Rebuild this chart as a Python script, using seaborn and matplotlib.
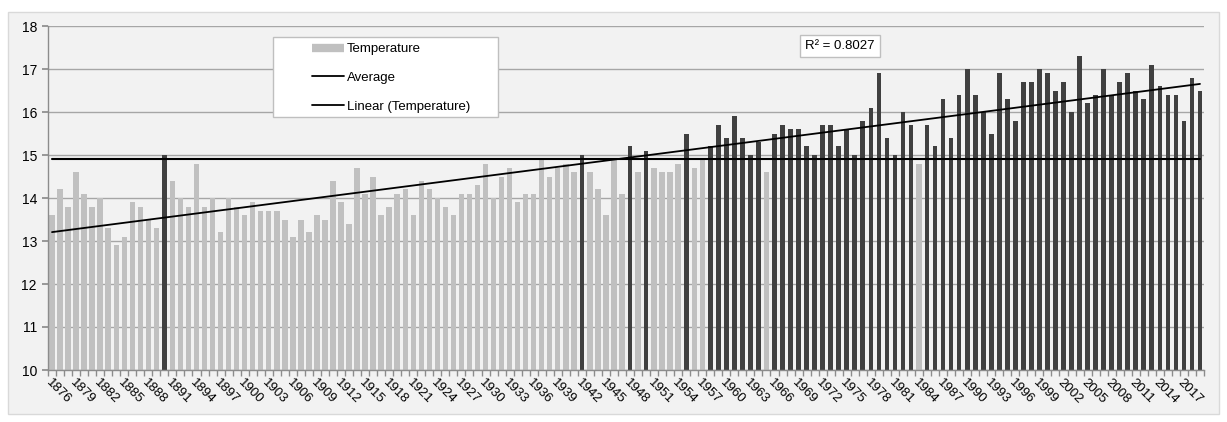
import numpy as np
import pandas as pd
import matplotlib
matplotlib.use('Agg')
import matplotlib.pyplot as plt
import seaborn as sns
from matplotlib.lines import Line2D
from matplotlib.patches import Rectangle

# ---------------- data ----------------
years = list(range(1876, 2020))
temps = [
    13.6, 14.2, 13.8, 14.6, 14.1, 13.8, 14.0, 13.3, 12.9, 13.1,
    13.9, 13.8, 13.5, 13.3, 15.0, 14.4, 14.0, 13.8, 14.8, 13.8,
    14.0, 13.2, 14.0, 13.8, 13.6, 13.9, 13.7, 13.7, 13.7, 13.5,
    13.1, 13.5, 13.2, 13.6, 13.5, 14.4, 13.9, 13.4, 14.7, 14.1,
    14.5, 13.6, 13.8, 14.1, 14.2, 13.6, 14.4, 14.2, 14.0, 13.8,
    13.6, 14.1, 14.1, 14.3, 14.8, 14.0, 14.5, 14.7, 13.9, 14.1,
    14.1, 14.9, 14.5, 14.7, 14.8, 14.6, 15.0, 14.6, 14.2, 13.6,
    14.9, 14.1, 15.2, 14.6, 15.1, 14.7, 14.6, 14.6, 14.8, 15.5,
    14.7, 14.9, 15.2, 15.7, 15.4, 15.9, 15.4, 15.0, 15.3, 14.6,
    15.5, 15.7, 15.6, 15.6, 15.2, 15.0, 15.7, 15.7, 15.2, 15.6,
    15.0, 15.8, 16.1, 16.9, 15.4, 15.0, 16.0, 15.7, 14.8, 15.7,
    15.2, 16.3, 15.4, 16.4, 17.0, 16.4, 16.0, 15.5, 16.9, 16.3,
    15.8, 16.7, 16.7, 17.0, 16.9, 16.5, 16.7, 16.0, 17.3, 16.2,
    16.4, 17.0, 16.4, 16.7, 16.9, 16.5, 16.3, 17.1, 16.6, 16.4,
    16.4, 15.8, 16.8, 16.5,
]
average = 14.9
r2_label = "R² = 0.8027"
legend_labels = ["Temperature", "Average", "Linear (Temperature)"]
yticks = list(range(10, 19))

# ---------------- style ----------------
sns.set_theme(style='white')
plt.rcParams['font.family'] = ['Liberation Sans Narrow', 'Liberation Sans', 'DejaVu Sans']
plt.rcParams['text.color'] = 'black'

LIGHT = '#c0c0c0'
DARK = '#404040'
GRID = '#a6a6a6'

W, H = 1227, 422
fig = plt.figure(figsize=(W / 100, H / 100), dpi=100, facecolor='white')
frame = Rectangle((8 / W, (H - 414) / H), (1219 - 8) / W, (414 - 12) / H,
                  transform=fig.transFigure, facecolor='#f2f2f2',
                  edgecolor='#d9d9d9', lw=1, zorder=-10)
fig.patches.append(frame)
ax = fig.add_axes([48 / W, (H - 370) / H, 1156 / W, 344 / H])
ax.set_zorder(1)
ax.set_facecolor('#f2f2f2')

df = pd.DataFrame({'year': [str(y) for y in years], 'temp': temps})
df['above'] = df['temp'] > average
order = df['year'].tolist()
n = len(order)

sns.barplot(data=df[~df['above']], x='year', y='temp', order=order, color=LIGHT,
            width=0.68, saturation=1, errorbar=None, linewidth=0, ax=ax, zorder=2)
sns.barplot(data=df[df['above']], x='year', y='temp', order=order, color=DARK,
            width=0.58, saturation=1, errorbar=None, linewidth=0, ax=ax, zorder=2)

pos = np.arange(n)
coef = np.polyfit(pos, np.array(temps), 1)
ax.plot(pos, np.polyval(coef, pos), color='black', lw=1.3, zorder=4)
ax.plot([pos[0], pos[-1]], [average, average], color='black', lw=1.5, zorder=4)

# axes
ax.set_xlim(-0.5, n - 0.5)
ax.set_ylim(10, 18)
ax.set_yticks(yticks)
ax.set_axisbelow(True)
ax.yaxis.grid(True, color=GRID, lw=1)
ax.xaxis.grid(False)
for s in ['top', 'right']:
    ax.spines[s].set_visible(False)
for s in ['left', 'bottom']:
    ax.spines[s].set_color('#8c8c8c')
    ax.spines[s].set_linewidth(1)

ax.set_xticks(pos[::3])
ax.set_xticklabels([order[i] for i in pos[::3]])
ax.set_xticks(np.arange(-0.5, n, 1), minor=True)
ax.tick_params(axis='x', which='major', length=0, pad=5, labelsize=9.5, bottom=True,
               labelcolor='black')
ax.tick_params(axis='x', which='minor', length=4, color='#8c8c8c', bottom=True)
ax.tick_params(axis='y', length=4, color='#8c8c8c', labelsize=10, left=True, pad=4,
               labelcolor='black')
plt.setp(ax.get_xticklabels(), rotation=-45, ha='left', va='top', rotation_mode='anchor')
ax.set_xlabel('')
ax.set_ylabel('')

# legend
ax.add_patch(Rectangle(((273 - 48) / 1156, (370 - 117) / 344), (498 - 273) / 1156, 80 / 344,
                       transform=ax.transAxes, facecolor='white', edgecolor='#bfbfbf',
                       lw=1, zorder=5))
handles = [Line2D([0], [0], color=LIGHT, lw=6, solid_capstyle='butt'),
           Line2D([0], [0], color='black', lw=1.3),
           Line2D([0], [0], color='black', lw=1.3)]
leg = ax.legend(handles, legend_labels, loc='upper left',
                bbox_to_anchor=((312 - 48) / 1156, (370 - 43) / 344),
                borderaxespad=0, borderpad=0, frameon=False, handlelength=2.4,
                handletextpad=0.25, labelspacing=1.25, fontsize=9.5)
leg.set_zorder(6)

ax.text((840 - 48) / 1156, (370 - 46) / 344, r2_label, transform=ax.transAxes,
        ha='center', va='center', fontsize=9.5, zorder=6,
        bbox=dict(boxstyle='square,pad=0.4', fc='white', ec='#bfbfbf', lw=1))

fig.savefig('out.png', dpi=100)
